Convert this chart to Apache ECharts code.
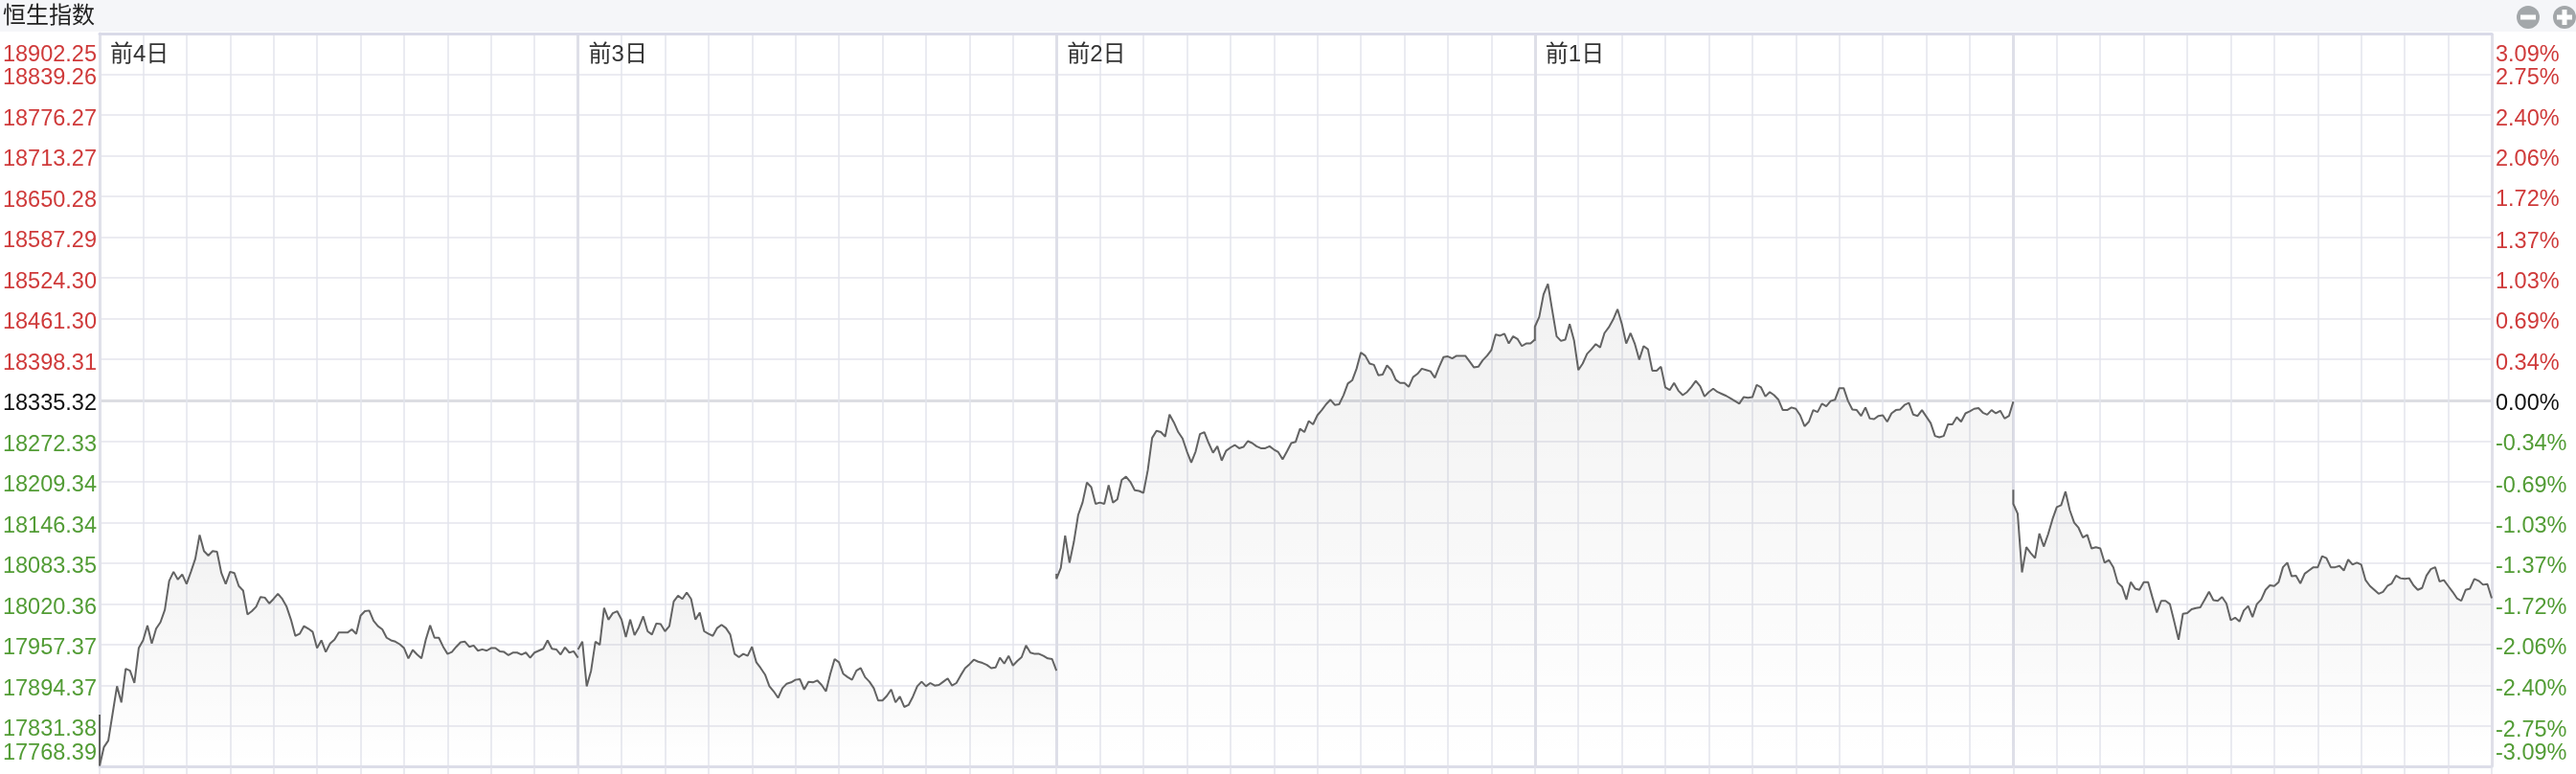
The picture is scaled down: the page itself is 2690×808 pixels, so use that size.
<!DOCTYPE html>
<html lang="zh">
<head>
    <meta charset="UTF-8"/>
    <title>恒生指数</title>
    <script src="https://cdn.jsdelivr.net/npm/echarts@6/dist/echarts.min.js"></script>
    <style>
        html, body { margin: 0; padding: 0; background: #fff; }
    </style>
</head>
<body>
<div id="main" style="width: 2690px;height:808px;"></div>
<script type="text/javascript">
    var chartTitle = '恒生指数';
    var dayLabels = ['前4日', '前3日', '前2日', '前1日'];
    var baseValue = 18335.32;
    var priceTicks = [18902.25, 18839.26, 18776.27, 18713.27, 18650.28, 18587.29, 18524.30, 18461.30, 18398.31, 18335.32,
        18272.33, 18209.34, 18146.34, 18083.35, 18020.36, 17957.37, 17894.37, 17831.38, 17768.39];
    var percentTicks = [3.09, 2.75, 2.40, 2.06, 1.72, 1.37, 1.03, 0.69, 0.34, 0.00,
        -0.34, -0.69, -1.03, -1.37, -1.72, -2.06, -2.40, -2.75, -3.09];

    // each session: first print, then one reading every 3 minutes
    var sessionMinutes = 330;
    var stepMinutes = 3;
    var dayOpens = [17849, 17950, 18067, 18427, 18197];
    var day1 = [17770, 17799, 17809, 17851, 17893, 17868, 17920, 17917, 17898, 17952, 17964, 17987, 17959, 17982, 17992, 18011, 18056, 18070, 18058, 18066,
        18051, 18070, 18090, 18127, 18102, 18095, 18102, 18101, 18068, 18051, 18070, 18068, 18048, 18041, 18004, 18009, 18016, 18031, 18030, 18021,
        18028, 18036, 18028, 18016, 17996, 17971, 17974, 17986, 17982, 17977, 17952, 17964, 17946, 17959, 17965, 17976, 17976, 17976, 17981, 17974,
        18002, 18009, 18010, 17994, 17986, 17981, 17968, 17964, 17962, 17958, 17952, 17936, 17949, 17942, 17936, 17965, 17987, 17968, 17968, 17954,
        17943, 17946, 17954, 17961, 17962, 17954, 17956, 17948, 17950, 17948, 17952, 17952, 17947, 17946, 17941, 17945, 17945, 17942, 17945, 17937,
        17945, 17948, 17951, 17964, 17951, 17950, 17942, 17953, 17945, 17947, 17937];
    var day2 = [17950, 17962, 17893, 17917, 17962, 17957, 18014, 17996, 18006, 18009, 17996, 17969, 17996, 17972, 17984, 18001, 17978, 17973, 17990, 17989,
        17978, 17986, 18024, 18033, 18028, 18038, 18028, 17996, 18007, 17978, 17974, 17971, 17983, 17988, 17983, 17973, 17943, 17938, 17943, 17940,
        17954, 17930, 17921, 17911, 17893, 17885, 17875, 17890, 17897, 17899, 17903, 17904, 17888, 17900, 17899, 17902, 17895, 17885, 17912, 17935,
        17930, 17912, 17907, 17903, 17917, 17921, 17907, 17900, 17890, 17871, 17871, 17878, 17888, 17868, 17877, 17861, 17864, 17877, 17893, 17900,
        17893, 17898, 17894, 17895, 17900, 17905, 17894, 17898, 17910, 17921, 17927, 17934, 17931, 17929, 17926, 17921, 17922, 17937, 17928, 17940,
        17925, 17932, 17938, 17956, 17945, 17943, 17943, 17940, 17936, 17935, 17917];
    var day3 = [18059, 18076, 18126, 18084, 18116, 18158, 18177, 18208, 18201, 18175, 18177, 18175, 18204, 18177, 18182, 18212, 18217, 18209, 18196, 18195,
        18192, 18227, 18277, 18288, 18286, 18279, 18313, 18301, 18286, 18276, 18256, 18239, 18256, 18283, 18286, 18269, 18254, 18264, 18242, 18257,
        18262, 18266, 18261, 18263, 18272, 18269, 18264, 18261, 18261, 18264, 18259, 18255, 18244, 18256, 18269, 18271, 18291, 18286, 18303, 18298,
        18312, 18320, 18329, 18336, 18328, 18329, 18343, 18361, 18366, 18384, 18409, 18404, 18392, 18390, 18374, 18375, 18389, 18382, 18367, 18362,
        18362, 18356, 18371, 18376, 18384, 18382, 18380, 18370, 18387, 18402, 18403, 18400, 18404, 18404, 18404, 18395, 18386, 18387, 18397, 18404,
        18413, 18437, 18435, 18438, 18423, 18434, 18430, 18419, 18423, 18423, 18429];
    var day4 = [18449, 18464, 18499, 18515, 18474, 18434, 18427, 18429, 18453, 18428, 18382, 18392, 18407, 18414, 18422, 18417, 18439, 18448, 18460, 18476,
        18453, 18423, 18439, 18422, 18398, 18419, 18414, 18381, 18381, 18387, 18355, 18351, 18362, 18350, 18343, 18348, 18356, 18365, 18357, 18341,
        18348, 18353, 18348, 18345, 18342, 18338, 18334, 18330, 18340, 18339, 18340, 18359, 18355, 18341, 18348, 18343, 18336, 18320, 18320, 18324,
        18322, 18312, 18295, 18302, 18320, 18317, 18330, 18326, 18334, 18336, 18354, 18354, 18334, 18321, 18320, 18311, 18324, 18307, 18306, 18311,
        18312, 18302, 18315, 18320, 18321, 18328, 18331, 18313, 18311, 18320, 18310, 18300, 18280, 18278, 18280, 18298, 18298, 18309, 18302, 18315,
        18318, 18322, 18323, 18316, 18313, 18320, 18315, 18319, 18307, 18311, 18333];
    var day5 = [18175, 18160, 18069, 18108, 18099, 18091, 18129, 18109, 18128, 18151, 18170, 18173, 18194, 18165, 18146, 18138, 18123, 18127, 18106, 18108,
        18106, 18084, 18088, 18077, 18053, 18047, 18027, 18054, 18044, 18042, 18054, 18054, 18030, 18007, 18025, 18025, 18020, 17993, 17965, 18005,
        18006, 18012, 18014, 18015, 18027, 18039, 18026, 18025, 18031, 18021, 17995, 17999, 17993, 18010, 18017, 18000, 18020, 18027, 18042, 18049,
        18048, 18054, 18077, 18084, 18063, 18064, 18052, 18067, 18072, 18077, 18077, 18094, 18091, 18077, 18077, 18079, 18072, 18089, 18081, 18084,
        18081, 18057, 18048, 18042, 18036, 18039, 18048, 18052, 18064, 18060, 18059, 18060, 18049, 18042, 18045, 18064, 18074, 18077, 18055, 18057,
        18048, 18039, 18029, 18025, 18042, 18044, 18059, 18056, 18050, 18051, 18029];

    var days = [day1, day2, day3, day4, day5];
    var RED = '#cf3a3a', GREEN = '#529c35', BLACK = '#111111';
    var FONT = '"Liberation Sans", "Noto Sans CJK SC", sans-serif';

    function sessionSeries(values, d) {
        var start = d * sessionMinutes;
        var pts = [[start, dayOpens[d]]];
        for (var i = 0; i < values.length; i++) {
            pts.push([start + i * stepMinutes, values[i]]);
        }
        return {
            type: 'line',
            data: pts,
            showSymbol: false,
            silent: true,
            lineStyle: {color: '#636363', width: 2},
            areaStyle: {
                origin: 'start',
                color: new echarts.graphic.LinearGradient(0, 0, 0, 1, [
                    {offset: 0, color: 'rgba(0,0,0,0.075)'},
                    {offset: 1, color: 'rgba(0,0,0,0)'}
                ])
            }
        };
    }

    function priceColor(v) {
        return v > baseValue ? RED : (v < baseValue ? GREEN : BLACK);
    }

    function percentColor(v) {
        return v > 0 ? RED : (v < 0 ? GREEN : BLACK);
    }

    function priceText(v) {
        return v.toFixed(2);
    }

    function percentText(v) {
        return v.toFixed(2) + '%';
    }

    // top and bottom labels get their own axis, inside the plot,
    // or the overlap check drops them or their neighbours
    function edgeAxis(ticks, position, margin, colorFn, textFn) {
        var last = ticks.length - 1;
        return {
            type: 'value',
            min: ticks[last],
            max: ticks[0],
            position: position,
            axisLine: {show: false},
            axisTick: {show: false},
            splitLine: {show: false},
            axisLabel: {
                customValues: [ticks[0], ticks[last]],
                margin: margin,
                fontFamily: FONT,
                fontSize: 23.5,
                verticalAlignMinLabel: 'top',
                verticalAlignMaxLabel: 'bottom',
                color: colorFn,
                formatter: function (v) {
                    return '{' + (v === ticks[0] ? 'edgeTop' : 'edgeBottom') + '|' + textFn(v) + '}';
                },
                rich: {
                    edgeTop: {padding: [11, 0, 0, 0]},
                    edgeBottom: {padding: [0, 0, 2, 0]}
                }
            }
        };
    }

    var midRich = {mid: {padding: [8, 0, 0, 0]}};

    var myChart = echarts.init(document.getElementById('main'));

    var option = {
        animation: false,
        backgroundColor: '#ffffff',
        title: {
            text: chartTitle,
            left: 3,
            top: 3,
            padding: 0,
            textStyle: {fontFamily: '"Noto Sans CJK SC", sans-serif', fontSize: 24, fontWeight: 'normal', color: '#222222'}
        },
        graphic: [
            {type: 'rect', z: -1, shape: {x: 0, y: 0, width: 2690, height: 33}, style: {fill: '#f5f6f9'}},
            {type: 'circle', shape: {cx: 2640, cy: 18, r: 12}, style: {fill: '#a3a7aa'}},
            {type: 'rect', shape: {x: 2632, y: 15.5, width: 16, height: 5}, style: {fill: '#ffffff'}},
            {type: 'circle', shape: {cx: 2678, cy: 18, r: 12}, style: {fill: '#a3a7aa'}},
            {type: 'rect', shape: {x: 2670, y: 15.5, width: 16, height: 5}, style: {fill: '#ffffff'}},
            {type: 'rect', shape: {x: 2675.5, y: 10, width: 5, height: 16}, style: {fill: '#ffffff'}}
        ],
        grid: {left: 104, right: 88, top: 35, bottom: 7.5, outerBoundsMode: 'none'},
        xAxis: [
            {
                type: 'value',
                min: 0,
                max: sessionMinutes * days.length,
                interval: 30,
                position: 'bottom',
                axisLine: {show: true, onZero: false, lineStyle: {color: '#dcdde8', width: 3}},
                axisTick: {show: true, length: 8, lineStyle: {color: '#e3e4ec', width: 1.5}},
                axisLabel: {show: false},
                splitLine: {show: true, lineStyle: {color: '#e3e4ec', width: 1.5}}
            },
            {
                type: 'value',
                min: 0,
                max: sessionMinutes * days.length,
                interval: sessionMinutes,
                position: 'top',
                axisLine: {show: true, onZero: false, lineStyle: {color: '#d9dae8', width: 3}},
                axisTick: {show: false},
                axisLabel: {
                    show: true,
                    inside: true,
                    margin: 10,
                    align: 'left',
                    padding: [0, 0, 0, 11],
                    fontFamily: FONT,
                    fontSize: 24,
                    color: '#333333',
                    formatter: function (v) {
                        return dayLabels[v / sessionMinutes] || '';
                    }
                },
                splitLine: {show: true, lineStyle: {color: '#dedfe8', width: 3}}
            }
        ],
        yAxis: [
            {
                type: 'value',
                min: priceTicks[priceTicks.length - 1],
                max: priceTicks[0],
                position: 'left',
                axisLine: {show: true, onZero: false, lineStyle: {color: '#e0e1ea', width: 3}},
                axisTick: {show: false, customValues: priceTicks},
                axisLabel: {
                    customValues: priceTicks.slice(1, -1),
                    margin: 3,
                    fontFamily: FONT,
                    fontSize: 23.5,
                    color: priceColor,
                    formatter: function (v) {
                        return '{mid|' + priceText(v) + '}';
                    },
                    rich: midRich
                },
                splitLine: {show: true, lineStyle: {color: '#e4e5ed', width: 1.5}}
            },
            {
                type: 'value',
                min: percentTicks[percentTicks.length - 1],
                max: percentTicks[0],
                position: 'right',
                axisLine: {show: true, onZero: false, lineStyle: {color: '#e0e1ea', width: 1.5}},
                axisTick: {show: false, customValues: [0, percentTicks[percentTicks.length - 1]]},
                axisLabel: {
                    customValues: percentTicks.slice(1, -1),
                    margin: 4,
                    fontFamily: FONT,
                    fontSize: 23.5,
                    color: percentColor,
                    formatter: function (v) {
                        return '{mid|' + percentText(v) + '}';
                    },
                    rich: midRich
                },
                splitLine: {show: true, lineStyle: {color: '#dcdde2', width: 3}}
            },
            edgeAxis(priceTicks, 'left', 3, priceColor, priceText),
            edgeAxis(percentTicks, 'right', 4, percentColor, percentText)
        ],
        series: days.map(sessionSeries)
    };

    myChart.setOption(option);
</script>
</body>
</html>
